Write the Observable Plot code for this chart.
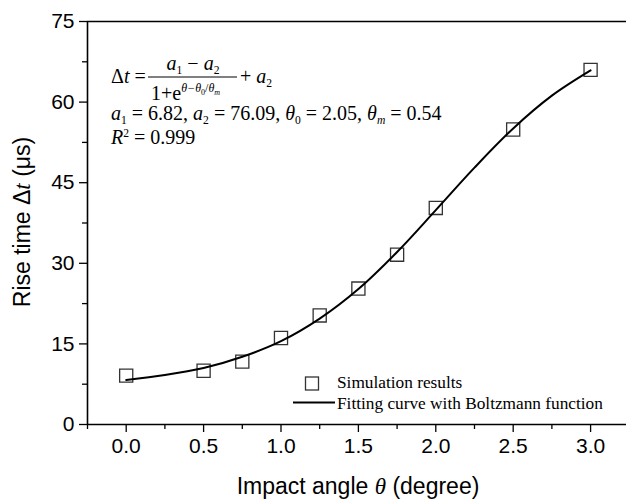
<!DOCTYPE html>
<html><head><meta charset="utf-8">
<script src="https://cdn.jsdelivr.net/npm/d3@7"></script>
<script src="https://cdn.jsdelivr.net/npm/@observablehq/plot@0.6"></script>
<style>body{margin:0;background:#fff}</style>
</head><body><div id="chart"></div>
<script>
// Simulation results (squares)
const angles = [0, 0.5, 0.75, 1.0, 1.25, 1.5, 1.75, 2.0, 2.5, 3.0];
const riseTimes = [9.1, 10.0, 11.7, 16.1, 20.3, 25.3, 31.6, 40.3, 54.9, 66.0];
// Fitting curve
const fitAngles = [0, 0.25, 0.5, 0.75, 1.0, 1.25, 1.5, 1.75, 2.0, 2.25, 2.5, 2.75, 3.0];
const fitValues = [8.3, 9.2, 10.5, 12.6, 15.5, 19.7, 25.2, 32.1, 39.9, 47.8, 55.1, 61.2, 65.9];
// Ticks
const xMajorTicks = [0, 0.5, 1.0, 1.5, 2.0, 2.5, 3.0];
const xMinorTicks = [-0.25, 0.25, 0.75, 1.25, 1.75, 2.25, 2.75];
const yMajorTicks = [0, 15, 30, 45, 60, 75];
const yMinorTicks = [7.5, 22.5, 37.5, 52.5, 67.5];

const simData = angles.map((a, i) => ({angle: a, time: riseTimes[i]}));
const fitData = fitAngles.map((a, i) => ({angle: a, time: fitValues[i]}));

const sans = "'Liberation Sans', Arial, sans-serif";
const serif = "'Liberation Serif', 'Times New Roman', serif";

const plot = Plot.plot({
  width: 626, height: 503,
  marginLeft: 87, marginRight: 0, marginTop: 21, marginBottom: 79,
  style: {fontFamily: sans, color: "#000", background: "#fff", overflow: "visible"},
  x: {domain: [-0.25, 3.232]},
  y: {domain: [0, 75]},
  marks: [
    Plot.axisX({ticks: xMajorTicks, tickSize: 8, tickPadding: 6, tickFormat: d3.format(".1f"), label: null, fontSize: 21, strokeWidth: 1.3}),
    Plot.axisX({ticks: xMinorTicks, tickSize: 5, tickFormat: () => "", label: null, strokeWidth: 1.3}),
    Plot.axisY({ticks: yMajorTicks, tickSize: 8, tickPadding: 5, tickFormat: d3.format("d"), label: null, fontSize: 21, strokeWidth: 1.3}),
    Plot.axisY({ticks: yMinorTicks, tickSize: 5, tickFormat: () => "", label: null, strokeWidth: 1.3}),
    Plot.ruleY([0], {stroke: "#000", strokeWidth: 1.6}),
    Plot.ruleY([75], {stroke: "#000", strokeWidth: 1.6}),
    Plot.ruleX([-0.25], {stroke: "#000", strokeWidth: 1.6}),
    Plot.dot(simData, {x: "angle", y: "time", symbol: "square", r: 7.4, stroke: "#333", strokeWidth: 1.3, fill: "none"}),
    Plot.line(fitData, {x: "angle", y: "time", curve: "catmull-rom", stroke: "#000", strokeWidth: 2})
  ]
});
document.getElementById("chart").appendChild(plot);

const svg = d3.select(plot);

// helper: rich text with italic / sub / sup parts; p.off = absolute offset from baseline
function rich(x, y, size, parts, opts = {}) {
  const t = svg.append("text")
    .attr("x", x).attr("y", y)
    .attr("font-family", opts.family || serif)
    .attr("font-size", size)
    .attr("fill", "#000")
    .attr("text-anchor", opts.anchor || "start");
  if (opts.transform) t.attr("transform", opts.transform);
  let shift = 0;
  for (const p of parts) {
    const s = t.append("tspan").text(p.t);
    if (p.i) s.attr("font-style", "italic");
    if (p.f) s.attr("font-family", p.f);
    let target = 0, fs = size;
    if (p.sub) { target = size * 0.2; fs = size * 0.58; }
    if (p.sup) { target = -size * 0.36; fs = size * 0.58; }
    if (p.off !== undefined) target = p.off;
    if (p.size) fs = p.size;
    s.attr("font-size", fs);
    if (target !== shift) { s.attr("dy", target - shift); shift = target; }
  }
  return t;
}

const F = 20;
// Formula, line 1
rich(111, 83, F, [{t: "Δ"}, {t: "t", i: true}, {t: " = "}]);
rich(193, 70, F, [{t: "a", i: true}, {t: "1", sub: true}, {t: " − "}, {t: "a", i: true}, {t: "2", sub: true}], {anchor: "middle"});
svg.append("line").attr("x1", 148).attr("x2", 237).attr("y1", 77).attr("y2", 77).attr("stroke", "#000").attr("stroke-width", 1);
rich(151, 100, F, [
  {t: "1+e"},
  {t: "θ−θ", i: true, off: -8, size: 12},
  {t: "0", off: -5.5, size: 8},
  {t: "/", off: -8, size: 12},
  {t: "θ", i: true, off: -8, size: 12},
  {t: "m", i: true, off: -5.5, size: 8}
]);
rich(240, 83, F, [{t: "+ "}, {t: "a", i: true}, {t: "2", sub: true}]);
// Line 2
rich(111, 120, F, [
  {t: "a", i: true}, {t: "1", sub: true}, {t: " = 6.82, "},
  {t: "a", i: true}, {t: "2", sub: true}, {t: " = 76.09, "},
  {t: "θ", i: true}, {t: "0", sub: true}, {t: " = 2.05, "},
  {t: "θ", i: true}, {t: "m", sub: true, i: true}, {t: " = 0.54"}
]);
// Line 3
rich(111, 144, F, [{t: "R", i: true}, {t: "2", sup: true}, {t: " = 0.999"}]);

// Legend
svg.append("rect").attr("x", 305.5).attr("y", 377).attr("width", 13).attr("height", 13)
  .attr("fill", "none").attr("stroke", "#333").attr("stroke-width", 1.3);
rich(337, 388, 17.3, [{t: "Simulation results"}]);
svg.append("line").attr("x1", 293).attr("x2", 335).attr("y1", 402.5).attr("y2", 402.5).attr("stroke", "#000").attr("stroke-width", 2);
rich(337, 408.5, 17.3, [{t: "Fitting curve with Boltzmann function"}]);

// Axis titles
rich(358, 494, 23, [{t: "Impact angle "}, {t: "θ", i: true, f: serif}, {t: " (degree)"}], {family: sans, anchor: "middle"});
rich(0, 0, 23, [{t: "Rise time Δ"}, {t: "t", i: true, f: serif}, {t: " (μs)"}], {family: sans, anchor: "middle", transform: "translate(30,222) rotate(-90)"});
</script>
</body></html>
